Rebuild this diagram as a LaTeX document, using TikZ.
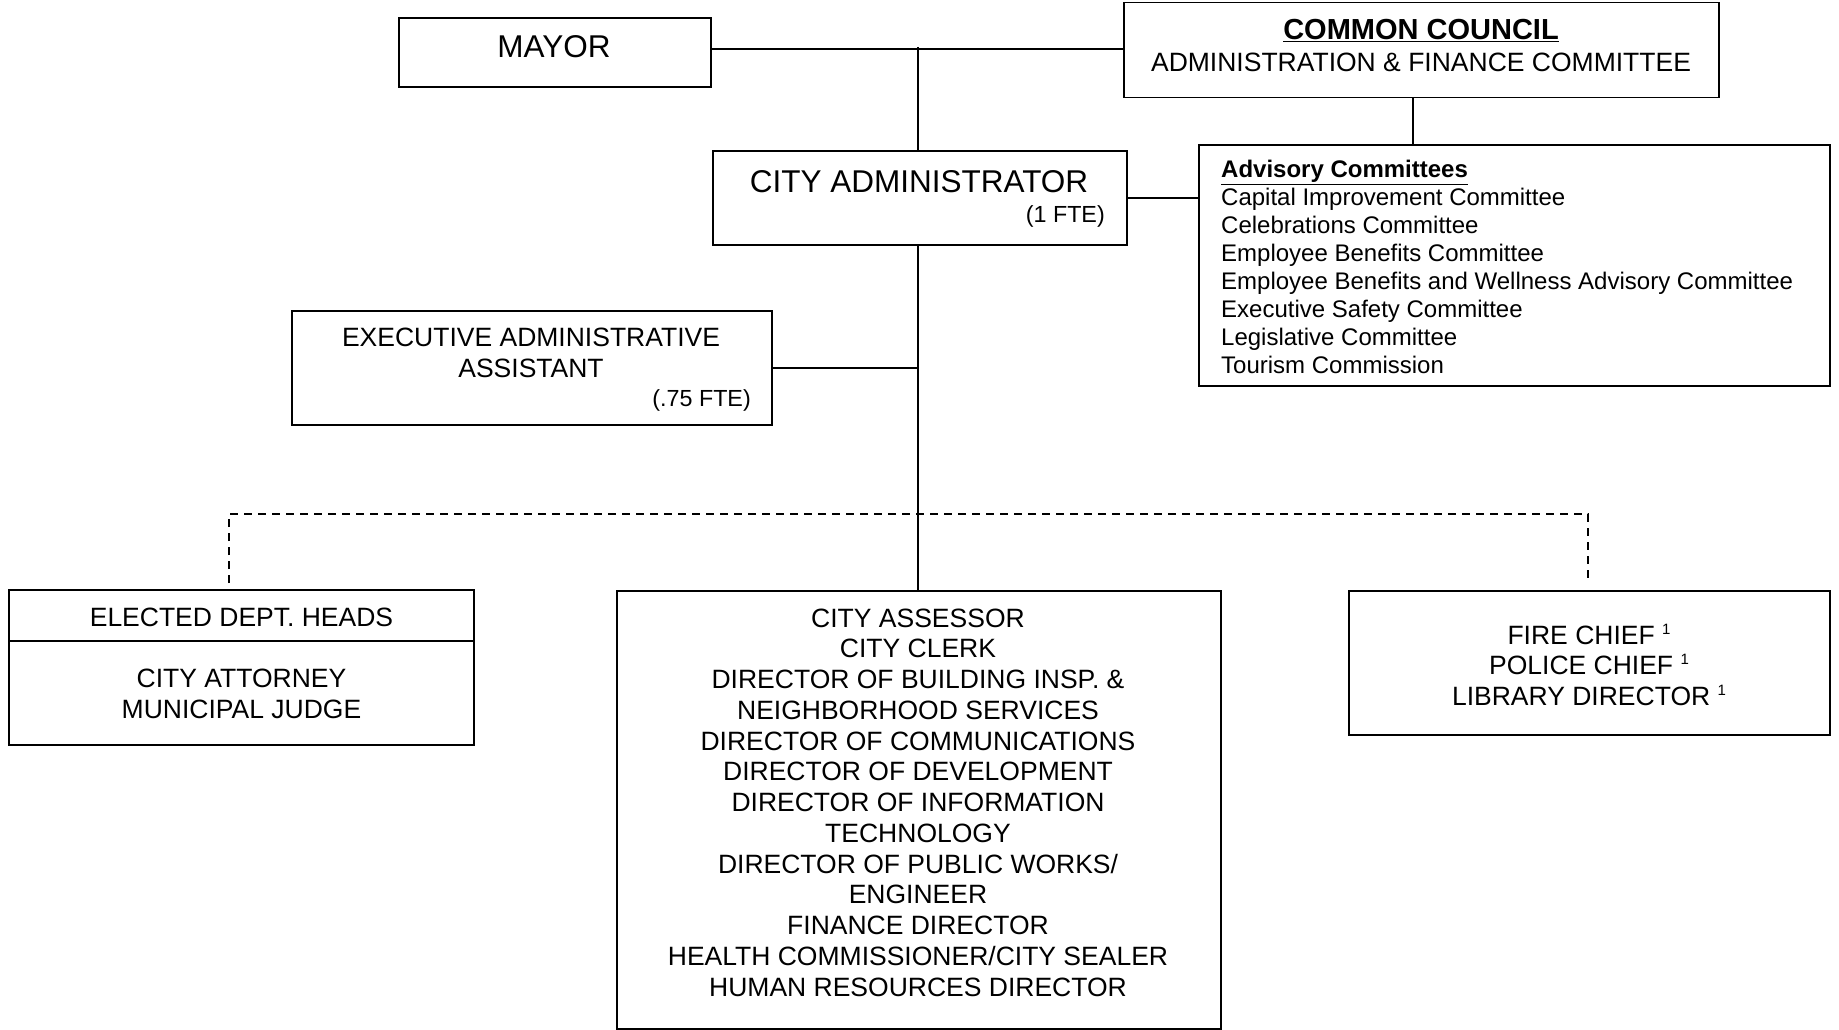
\documentclass[tikz,border=0pt]{standalone}
\usepackage{fontspec}
\setmainfont{Liberation Sans}
\begin{document}
\begin{tikzpicture}[x=1pt,y=-1pt,
  box/.style={draw, line width=1.8pt, inner sep=0pt, minimum width=#1},
  link/.style={line width=1.8pt},
  dlink/.style={line width=1.8pt, dash pattern=on 8pt off 6pt},
  big/.style={anchor=base, inner sep=0pt, font=\fontsize{31.5}{36}\selectfont},
  txt/.style={anchor=base, inner sep=0pt, font=\fontsize{26.5}{30.7}\selectfont},
  small/.style={anchor=base east, inner sep=0pt, font=\fontsize{23.3}{27}\selectfont},
  list/.style={anchor=base west, inner sep=0pt, font=\fontsize{24}{28}\selectfont}]

\useasboundingbox (0,0) rectangle (1839,1030);

% boxes
\node[box=312pt, minimum height=69pt]  (mayor)    at (555,52.5)   {};
\node[box=595pt, minimum height=95pt]  (council)  at (1421.5,50)  {};
\node[box=414pt, minimum height=94pt]  (admin)    at (920,198)    {};
\node[box=631pt, minimum height=241pt] (advisory) at (1514.5,265.5) {};
\node[box=480pt, minimum height=114pt] (exec)     at (532,368)    {};
\node[box=465pt, minimum height=155pt] (elected)  at (241.5,667.5) {};
\node[box=604pt, minimum height=438pt] (depts)    at (919,810)    {};
\node[box=481pt, minimum height=144pt] (chiefs)   at (1589.5,663) {};

% texts
\node[big] (tmayor) at (554,58) {MAYOR};
\node[big] (tadmin) at (919,192) {CITY ADMINISTRATOR};
\node[small] (tadminfte) at (1105,222) {(1 FTE)};

\node[anchor=base, inner sep=0pt, font=\fontsize{29}{33}\selectfont\bfseries] (tcouncil) at (1421,40) {\underline{COMMON COUNCIL}};
\node[txt] (tcommittee) at (1421,71.5) {ADMINISTRATION \& FINANCE COMMITTEE};

\node[list, font=\fontsize{24}{28}\selectfont\bfseries] (tadv) at (1221,178) {\underline{Advisory Committees}};
\foreach \t [count=\i] in {Capital Improvement Committee, Celebrations Committee,
  Employee Benefits Committee, Employee Benefits and Wellness Advisory Committee,
  Executive Safety Committee, Legislative Committee, Tourism Commission}
  \node[list] (tadv\i) at (1221,178+27.9*\i) {\t};

\node[txt] (texec1) at (531,346) {EXECUTIVE ADMINISTRATIVE};
\node[txt] (texec2) at (531,377) {ASSISTANT};
\node[small] (texecfte) at (751,406) {(.75 FTE)};

\node[txt] (telected) at (241.5,626) {ELECTED DEPT. HEADS};
\node[txt] (tattorney) at (241.5,687) {CITY ATTORNEY};
\node[txt] (tjudge) at (241.5,718) {MUNICIPAL JUDGE};

\foreach \t [count=\i from 0] in {CITY ASSESSOR, CITY CLERK,
  DIRECTOR OF BUILDING INSP. \&, NEIGHBORHOOD SERVICES,
  DIRECTOR OF COMMUNICATIONS, DIRECTOR OF DEVELOPMENT,
  DIRECTOR OF INFORMATION, TECHNOLOGY, DIRECTOR OF PUBLIC WORKS/,
  ENGINEER, FINANCE DIRECTOR, HEALTH COMMISSIONER/CITY SEALER,
  HUMAN RESOURCES DIRECTOR}
  \node[txt] (tdept\i) at (918,627+30.75*\i) {\t};

\newcommand\fnmark{\ \raisebox{10pt}{\fontsize{15}{15}\selectfont 1}}
\node[txt] (tfire) at (1589,644) {FIRE CHIEF\fnmark};
\node[txt] (tpolice) at (1589,674.5) {POLICE CHIEF\fnmark};
\node[txt] (tlibrary) at (1589,705) {LIBRARY DIRECTOR\fnmark};

% divider inside the elected box
\coordinate (eldiv) at (0,641);
\draw[link] (elected.west |- eldiv) -- ([xshift=-2pt]elected.east |- eldiv);

% connectors
\coordinate (topline) at (918,49);
\coordinate (topstub) at (918,47);
\coordinate (ccx) at (1413,0);
\draw[link] (mayor.east |- topline) -- (council.west |- topline);
\draw[link] (topstub) -- (admin.north -| topstub);
\draw[link] (council.south -| ccx) -- (advisory.north -| ccx);
\draw[link] (admin.east) -- (advisory.west |- admin.east);
\draw[link] (admin.south -| topstub) -- (depts.north -| topstub);
\draw[link] (exec.east) -- (exec.east -| topstub);

% dashed links to the elected heads and the chiefs
\coordinate (dashy) at (0,514);
\coordinate (dL) at (229,583);
\coordinate (dR) at (1588,583);
\draw[dlink] (dL) -- (dL |- dashy) -- (dR |- dashy) -- (dR);
\end{tikzpicture}
\end{document}
